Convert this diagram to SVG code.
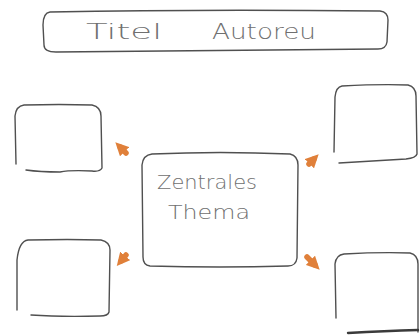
<svg xmlns="http://www.w3.org/2000/svg" width="420" height="336" viewBox="0 0 420 336">
<style>
.box{fill:none;stroke:#505050;stroke-width:1.4;stroke-linecap:round;stroke-linejoin:round}
.txt{font-family:"DejaVu Sans",sans-serif;font-weight:200;fill:#707070;}
.con{stroke:#e0803a;stroke-width:5.5;stroke-linecap:round;fill:none}
</style>
<defs>
<marker id="ah" viewBox="0 0 10 10" refX="5" refY="5" markerWidth="2.4" markerHeight="2.4" orient="auto">
<path d="M0,0 L10,5 L0,10 Z" fill="#e0803a"/>
</marker>
</defs>
<rect width="420" height="336" fill="#fff"/>
<g id="title">
<path class="box" d="M50,12 Q200,9 380,11 Q388,12 388,20 L387,42 Q386,49 378,49 Q220,51 56,52 Q44,52 44,45 L43,25 Q43,13 50,12 Z"/>
<text class="txt" x="86" y="39" font-size="21" textLength="76" lengthAdjust="spacingAndGlyphs">Titel</text>
<text class="txt" x="212" y="39" font-size="21" textLength="104" lengthAdjust="spacingAndGlyphs">Autoreu</text>
</g>
<g id="center">
<path class="box" d="M152,154 Q220,151 290,154 Q298,156 298,165 L297,258 Q296,266 288,266 Q220,268 150,266 Q143,265 143,257 L142,165 Q143,155 152,154 Z"/>
<text class="txt" x="157" y="189" font-size="19" textLength="100" lengthAdjust="spacingAndGlyphs">Zentrales</text>
<text class="txt" x="168" y="219" font-size="19" textLength="82" lengthAdjust="spacingAndGlyphs">Thema</text>
</g>
<g id="box-tl">
<path class="box" d="M24,105 Q60,104 92,105 Q101,107 101,116 L102,168 Q100,172 92,171 Q70,170 60,172 Q40,172 26,170 M16,164 L15,116 Q16,106 24,105"/>
</g>
<g id="box-tr">
<path class="box" d="M342,86 Q380,84 408,85 Q416,87 416,96 L417,154 Q416,158 406,159 Q370,161 339,163 M334,152 L335,97 Q336,87 342,86"/>
</g>
<g id="box-bl">
<path class="box" d="M28,240 Q70,239 101,240 Q110,242 110,250 L109,312 Q108,316 100,316 Q60,317 31,315 M17,310 L17,260 Q19,241 28,240"/>
</g>
<g id="box-br">
<path class="box" d="M344,254 Q380,252 410,253 Q418,255 418,264 L418,332 M336,318 L335,264 Q336,255 344,254"/>
<path d="M348,333 Q385,331 418,330" fill="none" stroke="#3a3a3a" stroke-width="2.4" stroke-linecap="round"/>
</g>
<g id="connectors">
<path class="con" d="M126,153 L120,147" marker-end="url(#ah)"/>
<path class="con" d="M309,164 L314,159" marker-end="url(#ah)"/>
<path class="con" d="M126,255 L121,261" marker-end="url(#ah)"/>
<path class="con" d="M307,257 L315,265" marker-end="url(#ah)"/>
</g>
</svg>
